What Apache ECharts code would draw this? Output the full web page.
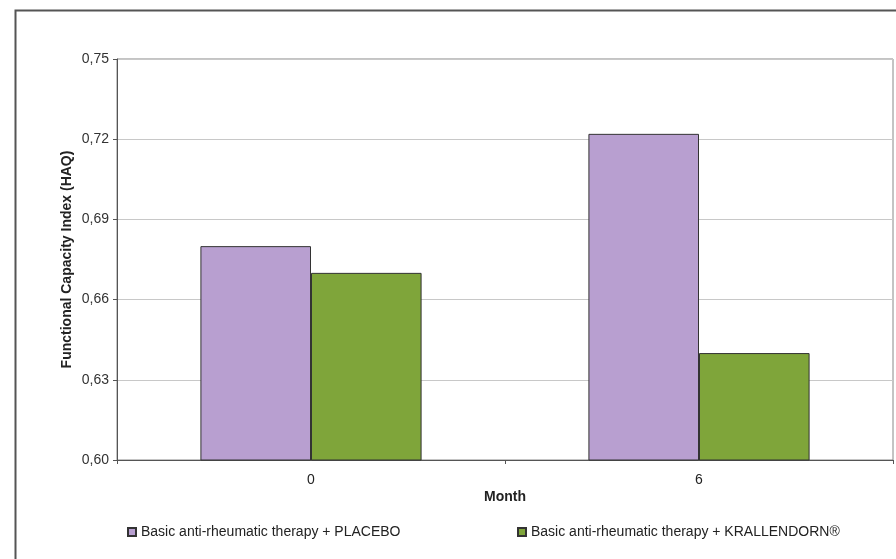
<!DOCTYPE html>
<html>
<head>
<meta charset="utf-8">
<script src="https://cdn.jsdelivr.net/npm/echarts@6/dist/echarts.min.js"></script>
<style>html,body{margin:0;padding:0;background:#fff}#c{width:896px;height:559px}</style>
</head>
<body>
<div id="c"></div>
<script>
var categories = ['0', '6'];
var placeboValues = [0.680, 0.722];
var krallendornValues = [0.670, 0.640];
var seriesNames = ['Basic anti-rheumatic therapy + PLACEBO', 'Basic anti-rheumatic therapy + KRALLENDORN®'];
var yAxisTitle = 'Functional Capacity Index (HAQ)';
var xAxisTitle = 'Month';

var chart = echarts.init(document.getElementById('c'), null, {renderer: 'canvas'});
var font = 'Liberation Sans, Arial, sans-serif';
chart.setOption({
  animation: false,
  backgroundColor: '#fff',
  graphic: [{
    type: 'rect', left: 13, top: 8,
    shape: {width: 900, height: 560},
    style: {fill: 'none', stroke: '#555', lineWidth: 2}, silent: true
  }],
  grid: {left: 117, right: 3, top: 59, bottom: 99, show: true, borderColor: '#888', borderWidth: 1, containLabel: false},
  legend: [{
    data: [seriesNames[0]], left: 122, top: 520, itemWidth: 8, itemHeight: 8, itemGap: 5,
    icon: 'rect', textStyle: {fontFamily: font, fontSize: 14, color: '#222'}
  }, {
    data: [seriesNames[1]], left: 512, top: 520, itemWidth: 8, itemHeight: 8, itemGap: 5,
    icon: 'rect', textStyle: {fontFamily: font, fontSize: 14, color: '#222'}
  }],
  xAxis: {
    type: 'category', data: categories,
    name: xAxisTitle, nameLocation: 'middle', nameGap: 30, nameMoveOverlap: false,
    nameTextStyle: {fontFamily: font, fontSize: 14, fontWeight: 'bold', color: '#222'},
    axisLine: {lineStyle: {color: '#555', width: 1}},
    axisTick: {show: true, length: 4, lineStyle: {color: '#555'}},
    axisLabel: {fontFamily: font, fontSize: 14, color: '#222', margin: 13}
  },
  yAxis: {
    type: 'value', min: 0.60, max: 0.75, interval: 0.03,
    name: yAxisTitle, nameLocation: 'middle', nameGap: 43, nameMoveOverlap: false,
    nameTextStyle: {fontFamily: font, fontSize: 14, fontWeight: 'bold', color: '#222'},
    axisLine: {show: true, lineStyle: {color: '#555', width: 1}},
    axisTick: {show: true, length: 4, lineStyle: {color: '#555'}},
    axisLabel: {fontFamily: font, fontSize: 14, color: '#333', margin: 8,
      formatter: function (v) { return v.toFixed(2).replace('.', ','); }},
    splitLine: {lineStyle: {color: '#c8c8c8', width: 1}}
  },
  series: [{
    name: seriesNames[0], type: 'bar', data: placeboValues,
    barGap: '0%', barCategoryGap: '43%',
    itemStyle: {color: '#b89fd0', borderColor: '#333', borderWidth: 1}
  }, {
    name: seriesNames[1], type: 'bar', data: krallendornValues,
    itemStyle: {color: '#7fa53a', borderColor: '#333', borderWidth: 1}
  }]
});
</script>
</body>
</html>
